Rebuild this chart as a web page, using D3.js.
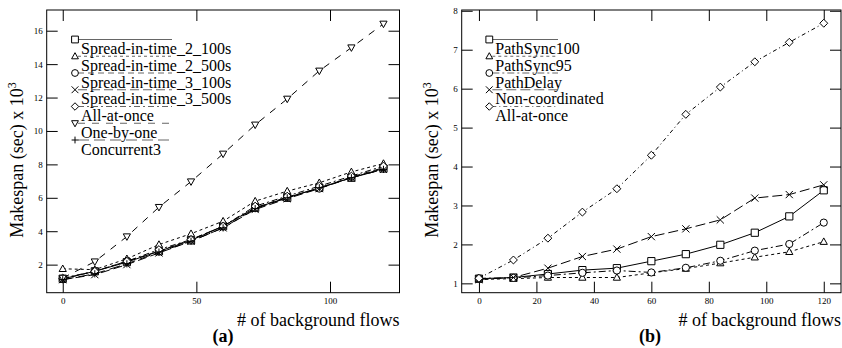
<!DOCTYPE html>
<html>
<head>
<meta charset="utf-8">
<script src="https://cdn.jsdelivr.net/npm/d3@7"></script>
<style>
  body { margin: 0; background: #fff; }
  svg { display: block; font-family: "Liberation Serif", "DejaVu Serif", serif; }
</style>
</head>
<body>
<svg id="chart" width="842" height="348"></svg>
<script>
// x values shared by both panels
const flows = [0, 12, 24, 36, 48, 60, 72, 84, 96, 108, 120]

// panel (a)
const namesA = ['Spread-in-time_2_100s', 'Spread-in-time_2_500s', 'Spread-in-time_3_100s',
  'Spread-in-time_3_500s', 'All-at-once', 'One-by-one', 'Concurrent3']
const spread2_100 = [1.15, 1.6, 2.15, 2.8, 3.45, 4.3, 5.4, 6.0, 6.6, 7.2, 7.75]
const spread2_500 = [1.75, 1.7, 2.35, 3.2, 3.85, 4.6, 5.8, 6.4, 6.9, 7.55, 8.05]
const spread3_100 = [1.15, 1.6, 2.2, 2.8, 3.5, 4.3, 5.4, 6.05, 6.55, 7.25, 7.8]
const spread3_500 = [1.1, 1.4, 2.0, 2.7, 3.4, 4.2, 5.3, 5.95, 6.55, 7.2, 7.7]
const allAtOnceA = [1.2, 1.6, 2.2, 2.9, 3.5, 4.3, 5.5, 6.1, 6.7, 7.3, 7.9]
const oneByOne = [1.2, 2.18, 3.68, 5.44, 6.97, 8.63, 10.37, 11.92, 13.6, 14.99, 16.41]
const concurrent3 = [1.1, 1.45, 2.05, 2.75, 3.4, 4.2, 5.35, 6.0, 6.6, 7.2, 7.7]
const xTicksA = [0, 50, 100]
const yTicksA = [2, 4, 6, 8, 10, 12, 14, 16]

// panel (b)
const namesB = ['PathSync100', 'PathSync95', 'PathDelay', 'Non-coordinated', 'All-at-once']
const pathSync100 = [1.12, 1.15, 1.24, 1.34, 1.39, 1.57, 1.75, 1.99, 2.3, 2.72, 3.39]
const pathSync95 = [1.1, 1.12, 1.15, 1.15, 1.15, 1.27, 1.38, 1.52, 1.67, 1.81, 2.07]
const pathDelay = [1.13, 1.14, 1.2, 1.27, 1.33, 1.28, 1.4, 1.58, 1.84, 2.01, 2.56]
const nonCoordinated = [1.1, 1.15, 1.39, 1.69, 1.88, 2.2, 2.4, 2.63, 3.19, 3.28, 3.53]
const allAtOnceB = [1.13, 1.6, 2.16, 2.83, 3.43, 4.29, 5.34, 6.04, 6.69, 7.19, 7.68]
const xTicksB = [0, 20, 40, 60, 80, 100, 120]
const yTicksB = [1, 2, 3, 4, 5, 6, 7, 8]

const svg = d3.select('#chart')

function marker(type, s) {
  switch (type) {
    case 'square': return `M${-s},${-s}h${2 * s}v${2 * s}h${-2 * s}Z`
    case 'triUp': return `M0,${-s * 1.05}L${s},${s * 0.75}L${-s},${s * 0.75}Z`
    case 'triDown': return `M0,${s * 1.05}L${s},${-s * 0.75}L${-s},${-s * 0.75}Z`
    case 'circle': return `M${s},0A${s},${s} 0 1 1 ${-s},0A${s},${s} 0 1 1 ${s},0Z`
    case 'x': return `M${-s},${-s}L${s},${s}M${-s},${s}L${s},${-s}`
    case 'diamond': return `M0,${-s * 1.1}L${s * 1.1},0L0,${s * 1.1}L${-s * 1.1},0Z`
    case 'plus': return `M${-s},0H${s}M0,${-s}V${s}`
  }
}

function drawPanel(p) {
  const x = d3.scaleLinear().domain([-6, 126]).range([p.left, p.right])
  const y = d3.scaleLinear().domain(p.yDomain).range([292.7, 10])
  const g = svg.append('g')

  const tickAxis = (axis, tr) => {
    const a = g.append('g').attr('transform', tr).call(axis)
    a.select('.domain').remove()
    a.selectAll('text').attr('font-size', 9).attr('fill', '#000')
      .attr('font-family', '"Liberation Serif", serif')
    a.selectAll('line').attr('stroke', '#000')
    return a
  }
  tickAxis(d3.axisBottom(x).tickValues(p.xTicks).tickSize(-11).tickPadding(5).tickFormat(d3.format('d')),
    'translate(0,292.7)')
  tickAxis(d3.axisTop(x).tickValues(p.xTicks).tickSize(-11).tickFormat(''), 'translate(0,10)')
  tickAxis(d3.axisLeft(y).tickValues(p.yTicks).tickSize(-11).tickPadding(4).tickFormat(d3.format('d')),
    `translate(${p.left},0)`)
  tickAxis(d3.axisRight(y).tickValues(p.yTicks).tickSize(-11).tickFormat(''), `translate(${p.right},0)`)

  g.append('rect')
    .attr('x', p.left).attr('y', 10)
    .attr('width', p.right - p.left).attr('height', 282.7)
    .attr('fill', 'none').attr('stroke', '#000').attr('stroke-width', 1)

  const line = d3.line().x((d, i) => x(flows[i])).y(d => y(d))

  p.series.forEach(s => {
    g.append('path').datum(s.values)
      .attr('d', line).attr('fill', 'none').attr('stroke', '#000')
      .attr('stroke-width', 1).attr('stroke-dasharray', s.dash)
    g.selectAll(null).data(s.values).enter().append('path')
      .attr('transform', (d, i) => `translate(${x(flows[i])},${y(d)})`)
      .attr('d', marker(s.marker, 3.6))
      .attr('fill', '#fff').attr('stroke', '#000').attr('stroke-width', 1)
  })

  // legend: text sits under its own line, as in the original
  p.series.forEach((s, i) => {
    const ly = 39.5 + i * 16.75
    g.append('line')
      .attr('x1', p.legX + 3).attr('x2', p.legX2).attr('y1', ly).attr('y2', ly)
      .attr('stroke', '#666').attr('stroke-width', 1).attr('stroke-dasharray', s.dash)
    g.append('path').attr('transform', `translate(${p.legX},${ly})`)
      .attr('d', marker(s.marker, 3.4))
      .attr('fill', '#fff').attr('stroke', '#000')
    g.append('text').attr('x', p.legX + 6).attr('y', ly + 14.5)
      .attr('font-size', 16).text(s.name)
  })

  // axis titles
  const yt = g.append('text')
    .attr('transform', `translate(${p.yTitleX},160) rotate(-90)`)
    .attr('text-anchor', 'middle').attr('font-size', 18)
  yt.append('tspan').text('Makespan (sec) x 10')
  yt.append('tspan').attr('dy', -7).attr('font-size', 12).text('3')

  g.append('text').attr('x', p.right).attr('y', 326)
    .attr('text-anchor', 'end').attr('font-size', 18).text('# of background flows')
  g.append('text').attr('x', p.tagX).attr('y', 342)
    .attr('text-anchor', 'middle').attr('font-size', 18).attr('font-weight', 'bold').text(p.tag)
}

drawPanel({
  left: 46.7, right: 399.5, yDomain: [0.32, 17.24],
  xTicks: xTicksA, yTicks: yTicksA,
  legX: 75, legX2: 172, yTitleX: 23, tagX: 223, tag: '(a)',
  series: [
    { name: namesA[0], values: spread2_100, marker: 'square', dash: null },
    { name: namesA[1], values: spread2_500, marker: 'triUp', dash: '3,3' },
    { name: namesA[2], values: spread3_100, marker: 'circle', dash: '6,4' },
    { name: namesA[3], values: spread3_500, marker: 'x', dash: '9,4' },
    { name: namesA[4], values: allAtOnceA, marker: 'diamond', dash: '6,3,2,3' },
    { name: namesA[5], values: oneByOne, marker: 'triDown', dash: '7,7' },
    { name: namesA[6], values: concurrent3, marker: 'plus', dash: '11,5' }
  ]
})

drawPanel({
  left: 461.7, right: 841, yDomain: [0.76, 8.02],
  xTicks: xTicksB, yTicks: yTicksB,
  legX: 489.3, legX2: 558, yTitleX: 438, tagX: 650, tag: '(b)',
  series: [
    { name: namesB[0], values: pathSync100, marker: 'square', dash: null },
    { name: namesB[1], values: pathSync95, marker: 'triUp', dash: '3,3' },
    { name: namesB[2], values: pathDelay, marker: 'circle', dash: '7,3,2,3' },
    { name: namesB[3], values: nonCoordinated, marker: 'x', dash: '10,4' },
    { name: namesB[4], values: allAtOnceB, marker: 'diamond', dash: '4,3,1,3' }
  ]
})
</script>
</body>
</html>
